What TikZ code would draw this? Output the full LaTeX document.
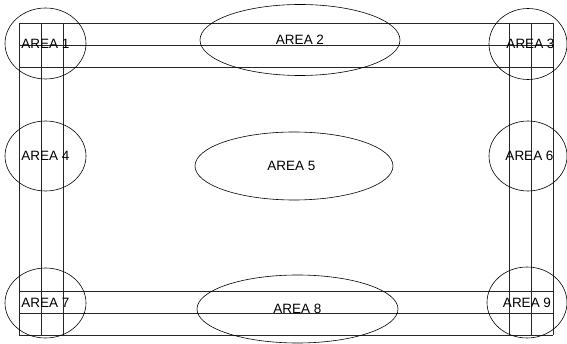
\documentclass[tikz,border=0pt]{standalone}
\usepackage{fontspec}
\setmainfont{Liberation Sans}
\usetikzlibrary{shapes.geometric}
\begin{document}
\begin{tikzpicture}[x=1pt,y=-1pt,
  area/.style={draw=black, ellipse, inner sep=0pt, line width=0.6pt, font=\fontsize{13.5}{15}\selectfont},
  grid/.style={draw=black!85, line width=0.6pt}]
\useasboundingbox (0,0) rectangle (567,344);
% corner coordinates of bands
\coordinate (tl1) at (19,23); \coordinate (tr1) at (553,23);
\coordinate (tl2) at (19,45); \coordinate (tr2) at (553,45);
\coordinate (tl3) at (19,67); \coordinate (tr3) at (553,67);
\coordinate (bl1) at (19,291); \coordinate (br1) at (553,291);
\coordinate (bl2) at (19,313); \coordinate (br2) at (553,313);
\coordinate (bl3) at (19,335); \coordinate (br3) at (553,335);
\coordinate (lt1) at (19,23); \coordinate (lb1) at (19,335);
\coordinate (lt2) at (41,23); \coordinate (lb2) at (41,335);
\coordinate (lt3) at (63,23); \coordinate (lb3) at (63,335);
\coordinate (rt1) at (509,23); \coordinate (rb1) at (509,335);
\coordinate (rt2) at (531,23); \coordinate (rb2) at (531,335);
\coordinate (rt3) at (553,23); \coordinate (rb3) at (553,335);
\draw[grid] (tl1) -- (tr1);
\draw[grid] (tl2) -- (tr2);
\draw[grid] (tl3) -- (tr3);
\draw[grid] (bl1) -- (br1);
\draw[grid] (bl2) -- (br2);
\draw[grid] (bl3) -- (br3);
\draw[grid] (lt1) -- (lb1);
\draw[grid] (lt2) -- (lb2);
\draw[grid] (lt3) -- (lb3);
\draw[grid] (rt1) -- (rb1);
\draw[grid] (rt2) -- (rb2);
\draw[grid] (rt3) -- (rb3);
% areas
\node[area, minimum width=81, minimum height=71] (a1) at (45.5,43.5) {AREA 1};
\node[area, minimum width=200, minimum height=71] (a2) at (300,40) {AREA 2};
\node[area, minimum width=78, minimum height=71] (a3) at (528,44) {\hspace*{5pt}AREA 3};
\node[area, minimum width=81, minimum height=70] (a4) at (45.5,156) {AREA 4};
\node[area, minimum width=198, minimum height=68] (a5) at (294,166) {AREA 5\hspace*{5pt}};
\node[area, minimum width=78, minimum height=70] (a6) at (528,156) {\hspace*{3pt}AREA 6};
\node[area, minimum width=81, minimum height=70] (a7) at (45.5,303) {AREA 7};
\node[area, minimum width=201, minimum height=68] (a8) at (297.5,309) {\raisebox{-5pt}{AREA 8}};
\node[area, minimum width=80, minimum height=71] (a9) at (527,302.5) {AREA 9};
\end{tikzpicture}
\end{document}
